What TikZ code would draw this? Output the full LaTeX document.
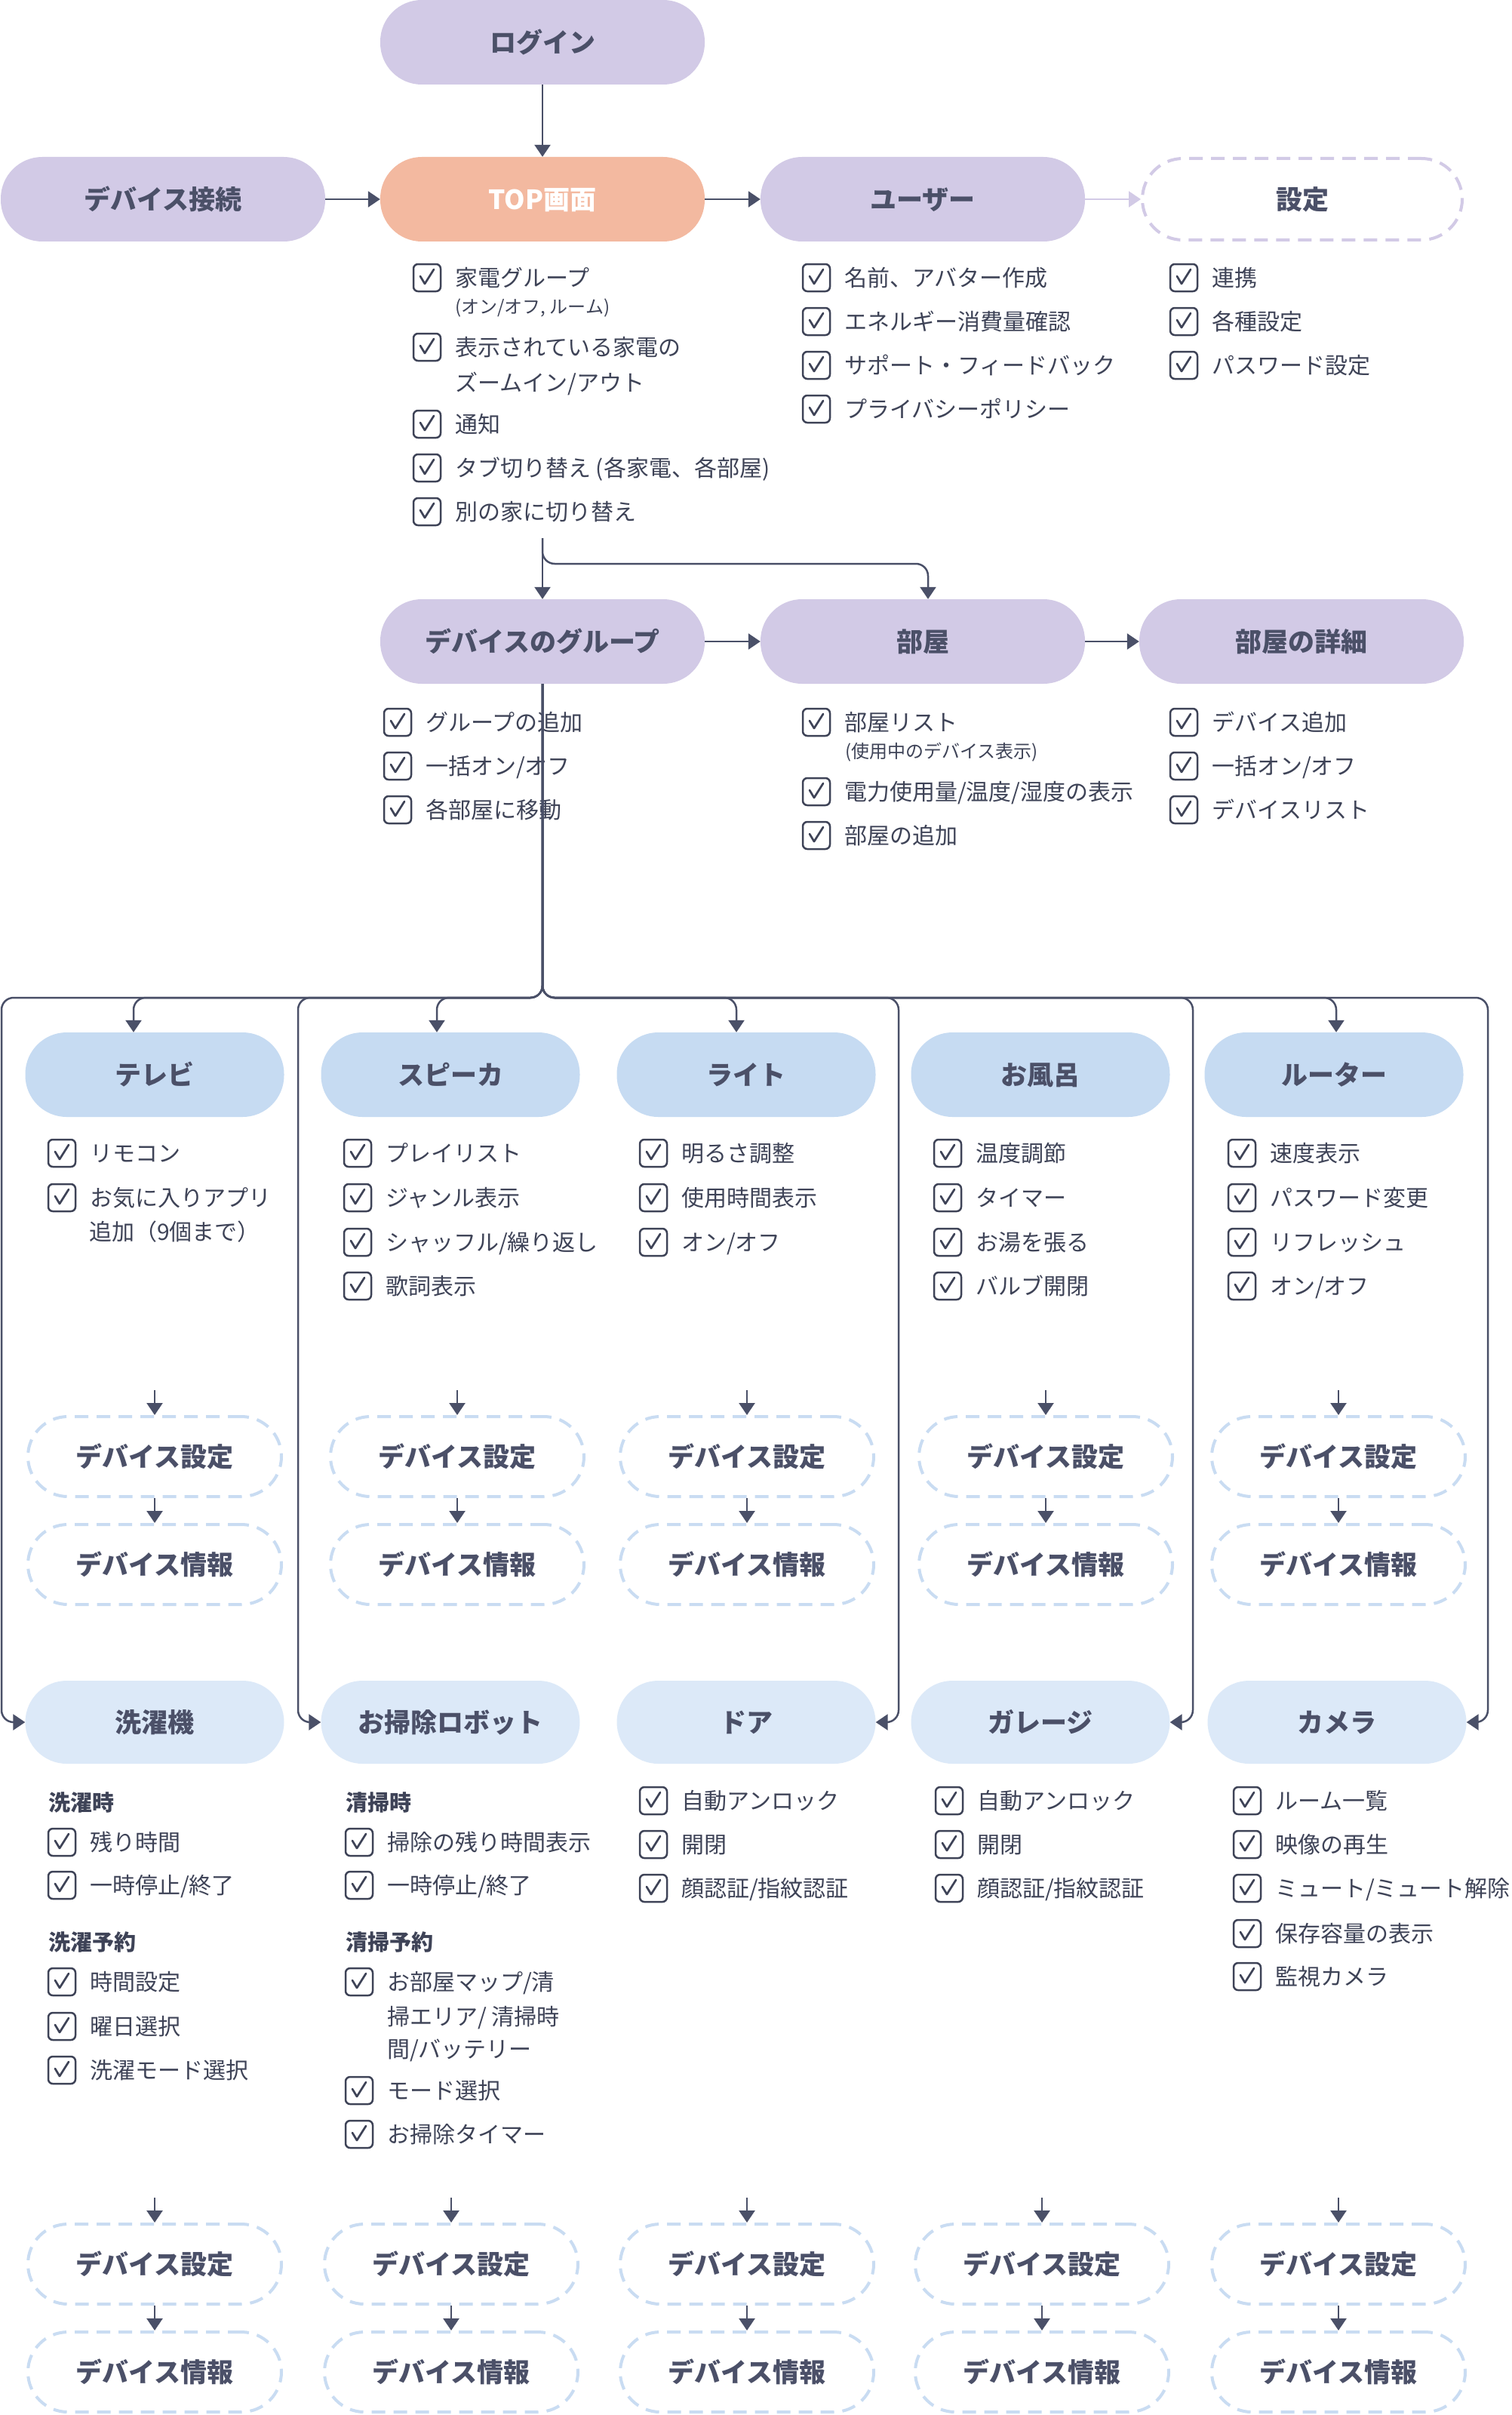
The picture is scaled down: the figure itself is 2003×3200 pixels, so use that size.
\documentclass[tikz,border=0pt]{standalone}
\usepackage{fontspec}
\setmainfont{Noto Sans CJK JP}
\usetikzlibrary{arrows.meta}
\definecolor{lav}{HTML}{D2CAE6}
\definecolor{salmon}{HTML}{F3B9A0}
\definecolor{blueA}{HTML}{C6DBF2}
\definecolor{blueB}{HTML}{DCE9F8}
\definecolor{ttl}{HTML}{4B5068}
\definecolor{ink}{HTML}{3E4357}
\definecolor{lnc}{HTML}{4A5068}
\definecolor{dashb}{HTML}{C9DCF2}
\tikzset{
 pill/.style={rectangle, rounded corners=55pt, minimum width=430pt, minimum height=112pt, inner sep=0pt, font=\fontsize{35}{40}\selectfont\bfseries, text=ttl, text height=30.8pt, text depth=4.2pt},
 purp/.style={pill, fill=lav},
 devA/.style={pill, fill=blueA, minimum width=343pt},
 devB/.style={pill, fill=blueB, minimum width=343pt, minimum height=110pt},
 dbox/.style={pill, draw=dashb, dash pattern=on 18pt off 11pt, line width=4pt, minimum width=336pt, minimum height=106pt, rounded corners=53pt},
 conn/.style={draw=lnc, line width=2.5pt, -{Triangle[length=16pt,width=21pt]}},
 chkbox/.style={draw=ink, line width=2.5pt, rounded corners=6pt, minimum size=36pt, inner sep=0pt},
 itm/.style={anchor=west, inner sep=0pt, text=ink, font=\fontsize{30}{36}\selectfont, text height=26.4pt, text depth=3.6pt},
 note/.style={itm, font=\fontsize{24}{28}\selectfont, text height=21.1pt, text depth=2.9pt},
 hdg/.style={itm, font=\fontsize{29}{34}\selectfont\bfseries, text height=25.5pt, text depth=3.5pt},
}
\newcommand\chkitem[4]{%
  \node[chkbox] (#1b) at (#2,#3) {};
  \draw[ink, line width=2.7pt, line cap=round, line join=round] ([shift={(-9pt,2pt)}]#1b.center) -- ([shift={(-3pt,-8pt)}]#1b.center) -- ([shift={(9pt,11pt)}]#1b.center);
  \node[itm] (#1) at (#2+37,#3) {#4};
}
\begin{document}
\begin{tikzpicture}[x=1pt,y=-1pt]
\useasboundingbox (0,0) rectangle (2003,3200);
\fill[white] (0,0) rectangle (2003,3200);

% top row
\node[purp] (login) at (719,56) {ログイン};
\node[purp] (dev) at (216,264) {デバイス接続};
\node[pill, fill=salmon, text=white] (top) at (719,264) {TOP画面};
\node[purp] (user) at (1223,264) {ユーザー};
\node[pill, draw=lav, dash pattern=on 18pt off 11pt, line width=4pt, minimum width=424pt, minimum height=108pt, rounded corners=54pt] (settei) at (1726,264) {設定};

\draw[conn] (login) -- (top);
\draw[conn] (dev) -- (top);
\draw[conn] (top) -- (user);
\draw[conn, draw=lav] (user) -- (settei);

% lists
\chkitem{t1}{566}{368}{家電グループ}
\node[note] (t1n) at (603,406) {(オン/オフ, ルーム)};
\chkitem{t2}{566}{460}{表示されている家電の}
\node[itm] (t2c) at (603,507) {ズームイン/アウト};
\chkitem{t3}{566}{562}{通知}
\chkitem{t4}{566}{620}{タブ切り替え (各家電、各部屋)}
\chkitem{t5}{566}{678}{別の家に切り替え}

\chkitem{u1}{1082}{368}{名前、アバター作成}
\chkitem{u2}{1082}{426}{エネルギー消費量確認}
\chkitem{u3}{1082}{484}{サポート・フィードバック}
\chkitem{u4}{1082}{542}{プライバシーポリシー}

\chkitem{s1}{1569}{368}{連携}
\chkitem{s2}{1569}{426}{各種設定}
\chkitem{s3}{1569}{484}{パスワード設定}

% second row
\coordinate (stem) at (719,713);
\node[purp] (group) at (719,850) {デバイスのグループ};
\node[purp] (room) at (1223,850) {部屋};
\node[purp] (detail) at (1725,850) {部屋の詳細};
\draw[conn] (stem) -- (group);
\draw[conn, rounded corners=16pt] (stem) -- (719,747) -- (1230,747) -- ([xshift=7pt]room.north);
\draw[conn] (group) -- (room);
\draw[conn] (room) -- (detail);

\chkitem{g1}{527}{957}{グループの追加}
\chkitem{g2}{527}{1015}{一括オン/オフ}
\chkitem{g3}{527}{1073}{各部屋に移動}

\chkitem{r1}{1082}{957}{部屋リスト}
\node[note] (r1n) at (1120,995) {(使用中のデバイス表示)};
\chkitem{r2}{1082}{1049}{電力使用量/温度/湿度の表示}
\chkitem{r3}{1082}{1107}{部屋の追加}

\chkitem{d1}{1569}{957}{デバイス追加}
\chkitem{d2}{1569}{1015}{一括オン/オフ}
\chkitem{d3}{1569}{1073}{デバイスリスト}

% device row 1
\node[devA] (tv) at (205,1424) {テレビ};
\node[devA] (spk) at (597,1424) {スピーカ};
\node[devA] (light) at (989,1424) {ライト};
\node[devA] (bath) at (1379,1424) {お風呂};
\node[devA] (router) at (1768,1424) {ルーター};

% device row 2
\node[devB] (wash) at (205,2282) {洗濯機};
\node[devB] (robot) at (597,2282) {お掃除ロボット};
\node[devB] (door) at (989,2282) {ドア};
\node[devB] (garage) at (1379,2282) {ガレージ};
\node[devB] (camera) at (1772,2282) {カメラ};

% branch connectors
\begin{scope}[rounded corners=16pt]
\draw[conn] (group.south) -- (719,1322) -- (177,1322) -- ([xshift=-28pt]tv.north);
\draw[conn] (group.south) -- (719,1322) -- (579,1322) -- ([xshift=-18pt]spk.north);
\draw[conn] (group.south) -- (719,1322) -- (976,1322) -- ([xshift=-13pt]light.north);
\draw[conn] (group.south) -- (719,1322) -- (1771,1322) -- ([xshift=3pt]router.north);
\draw[conn] (group.south) -- (719,1322) -- (2,1322) -- (2,2282) -- (wash.west);
\draw[conn] (group.south) -- (719,1322) -- (395,1322) -- (395,2282) -- (robot.west);
\draw[conn] (group.south) -- (719,1322) -- (1191,1322) -- (1191,2282) -- (door.east);
\draw[conn] (group.south) -- (719,1322) -- (1581,1322) -- (1581,2282) -- (garage.east);
\draw[conn] (group.south) -- (719,1322) -- (1972,1322) -- (1972,2282) -- (camera.east);
\end{scope}

% row 1 lists
\chkitem{tv1}{82}{1528}{リモコン}
\chkitem{tv2}{82}{1587}{お気に入りアプリ}
\node[itm] (tv2c) at (118,1632) {追加（9個まで）};

\chkitem{sp1}{474}{1528}{プレイリスト}
\chkitem{sp2}{474}{1587}{ジャンル表示}
\chkitem{sp3}{474}{1646}{シャッフル/繰り返し}
\chkitem{sp4}{474}{1704}{歌詞表示}

\chkitem{li1}{866}{1528}{明るさ調整}
\chkitem{li2}{866}{1587}{使用時間表示}
\chkitem{li3}{866}{1646}{オン/オフ}

\chkitem{ba1}{1256}{1528}{温度調節}
\chkitem{ba2}{1256}{1587}{タイマー}
\chkitem{ba3}{1256}{1646}{お湯を張る}
\chkitem{ba4}{1256}{1704}{バルブ開閉}

\chkitem{ro1}{1646}{1528}{速度表示}
\chkitem{ro2}{1646}{1587}{パスワード変更}
\chkitem{ro3}{1646}{1646}{リフレッシュ}
\chkitem{ro4}{1646}{1704}{オン/オフ}

% row 1 dashed
\foreach \n/\x in {tv/205, spk/606, light/990, bath/1386, router/1774} {
  \node[dbox] (\n S) at (\x,1930) {デバイス設定};
  \node[dbox] (\n I) at (\x,2073) {デバイス情報};
  \draw[conn] ([yshift=33pt]\n S.north) -- (\n S.north);
  \draw[conn] (\n S.south) -- (\n I.north);
}

% row 2 lists
\node[hdg] (wh1) at (64,2388) {洗濯時};
\chkitem{wa1}{82}{2441}{残り時間}
\chkitem{wa2}{82}{2498}{一時停止/終了}
\node[hdg] (wh2) at (64,2573) {洗濯予約};
\chkitem{wa3}{82}{2626}{時間設定}
\chkitem{wa4}{82}{2685}{曜日選択}
\chkitem{wa5}{82}{2743}{洗濯モード選択}

\node[hdg] (rh1) at (458,2388) {清掃時};
\chkitem{rb1}{476}{2441}{掃除の残り時間表示}
\chkitem{rb2}{476}{2498}{一時停止/終了}
\node[hdg] (rh2) at (458,2573) {清掃予約};
\chkitem{rb3}{476}{2626}{お部屋マップ/清}
\node[itm] (rb3c) at (513,2672) {掃エリア/ 清掃時};
\node[itm] (rb3d) at (513,2715) {間/バッテリー};
\chkitem{rb4}{476}{2770}{モード選択}
\chkitem{rb5}{476}{2828}{お掃除タイマー}

\chkitem{do1}{866}{2386}{自動アンロック}
\chkitem{do2}{866}{2444}{開閉}
\chkitem{do3}{866}{2502}{顔認証/指紋認証}

\chkitem{ga1}{1258}{2386}{自動アンロック}
\chkitem{ga2}{1258}{2444}{開閉}
\chkitem{ga3}{1258}{2502}{顔認証/指紋認証}

\chkitem{ca1}{1653}{2386}{ルーム一覧}
\chkitem{ca2}{1653}{2444}{映像の再生}
\chkitem{ca3}{1653}{2502}{ミュート/ミュート解除}
\chkitem{ca4}{1653}{2562}{保存容量の表示}
\chkitem{ca5}{1653}{2619}{監視カメラ}

% row 2 dashed
\foreach \n/\x in {wash/205, robot/598, door/990, garage/1381, camera/1774} {
  \node[dbox] (\n S) at (\x,3000) {デバイス設定};
  \node[dbox] (\n I) at (\x,3143) {デバイス情報};
  \draw[conn] ([yshift=33pt]\n S.north) -- (\n S.north);
  \draw[conn] (\n S.south) -- (\n I.north);
}
\end{tikzpicture}
\end{document}
